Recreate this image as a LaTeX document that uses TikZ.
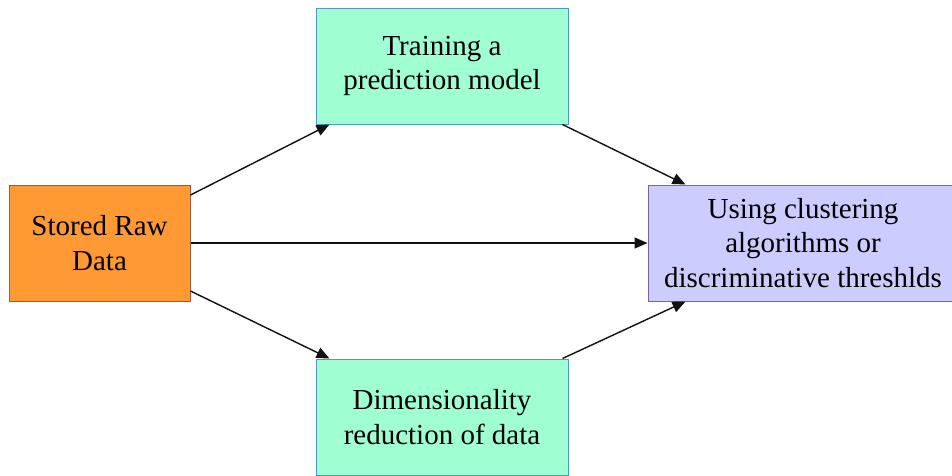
\documentclass[tikz,border=0pt]{standalone}
\usepackage{fontspec}
\setmainfont{Liberation Serif}
\usetikzlibrary{arrows.meta}
\definecolor{RawFill}{HTML}{FF9933}
\definecolor{RawEdge}{HTML}{A5553A}
\definecolor{MintFill}{HTML}{A0FFD2}
\definecolor{MintEdge}{HTML}{4A9CC4}
\definecolor{LavFill}{HTML}{CCCCFF}
\definecolor{LavEdge}{HTML}{76689A}
\definecolor{ArrText}{HTML}{111111}

\begin{document}
\begin{tikzpicture}[x=1pt,y=-1pt,
        box/.style={draw,line width=1pt,minimum height=116pt,align=center,
                    inner sep=0pt,font=\fontsize{29}{34.5}\selectfont},
        rawbox/.style={box,fill=RawFill,draw=RawEdge,minimum width=181pt},
        stepbox/.style={box,fill=MintFill,draw=MintEdge,minimum width=252pt},
        endbox/.style={box,fill=LavFill,draw=LavEdge,minimum width=310pt},
        arr/.style={draw=ArrText,line width=1.4pt,-{Triangle[length=13pt,width=11pt]}}]
      \clip (0,0) rectangle (952,475);
      \node[rawbox]  (raw)     at (99.5, 243) {Stored Raw\\Data};
      \node[stepbox] (train)   at (442,   66) {Training a\\prediction model};
      \node[stepbox] (dimred)  at (442,  417) {Dimensionality\\reduction of data};
      \node[endbox]  (cluster) at (803,  243) {Using clustering\\algorithms or\\discriminative threshlds};
      \draw[arr] ([yshift=48pt]raw.east)  -- ([xshift=14pt]train.south west);
      \draw[arr] (raw.east)               -- (cluster.west);
      \draw[arr] ([yshift=-48pt]raw.east) -- ([xshift=14pt]dimred.north west);
      \draw[arr] ([xshift=-6pt]train.south east)  -- ([xshift=38pt]cluster.north west);
      \draw[arr] ([xshift=-6pt]dimred.north east) -- ([xshift=38pt]cluster.south west);
    \end{tikzpicture}
\end{document}
